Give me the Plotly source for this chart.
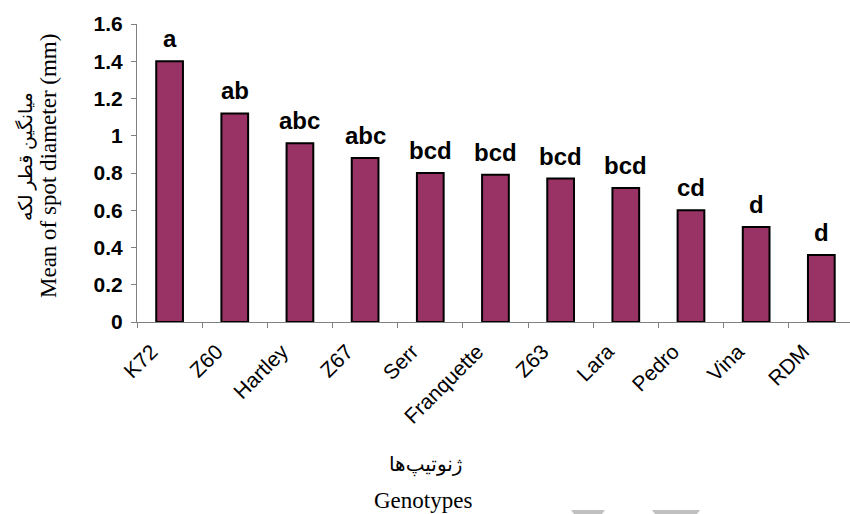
import plotly.graph_objects as go

genotypes = ["K72", "Z60", "Hartley", "Z67", "Serr", "Franquette", "Z63", "Lara", "Pedro", "Vina", "RDM"]
spot_diameter = [1.40, 1.12, 0.96, 0.88, 0.80, 0.79, 0.77, 0.72, 0.60, 0.51, 0.36]
group_letters = ["a", "ab", "abc", "abc", "bcd", "bcd", "bcd", "bcd", "cd", "d", "d"]
y_ticks = [0, 0.2, 0.4, 0.6, 0.8, 1.0, 1.2, 1.4, 1.6]
y_tick_text = ["0", "0.2", "0.4", "0.6", "0.8", "1", "1.2", "1.4", "1.6"]

W, H = 850, 514
L, R, T, B = 137, 0, 24, 192
PW, PH = W - L - R, H - T - B

def px(x):
    return (x - L) / PW

def py(y):
    return (H - B - y) / PH

SANS = "Liberation Sans, Arial, sans-serif"
SERIF = "Liberation Serif, Times New Roman, DejaVu Sans, serif"

fig = go.Figure()
fig.add_trace(go.Bar(
    x=genotypes, y=spot_diameter, width=0.41,
    marker=dict(color="#993366", line=dict(color="#000000", width=2)),
    hoverinfo="x+y",
))

annotations = []
for g, v, lab in zip(genotypes, spot_diameter, group_letters):
    annotations.append(dict(
        x=g, y=v, xref="x", yref="y", text="<b>%s</b>" % lab, showarrow=False,
        yanchor="bottom", xanchor="center", yshift=7,
        font=dict(family=SANS, size=24, color="#000000"),
    ))

annotations += [
    dict(x=px(48), y=py(166), xref="paper", yref="paper", text="Mean of spot diameter (mm)",
         textangle=-90, showarrow=False, xanchor="center", yanchor="middle",
         font=dict(family=SERIF, size=23, color="#000000")),
    dict(x=px(25), y=py(157), xref="paper", yref="paper", text="میانگین قطر لکه",
         textangle=-90, showarrow=False, xanchor="center", yanchor="middle",
         font=dict(family=SERIF, size=19, color="#000000")),
    dict(x=px(425), y=py(465), xref="paper", yref="paper", text="ژنوتیپ\u200cها",
         showarrow=False, xanchor="center", yanchor="middle",
         font=dict(family=SERIF, size=20, color="#000000")),
    dict(x=px(423), y=py(500), xref="paper", yref="paper", text="Genotypes",
         showarrow=False, xanchor="center", yanchor="middle",
         font=dict(family=SERIF, size=23, color="#000000")),
]

shapes = []
for x0, x1 in [(571, 605), (652, 700)]:
    path = "M %f %f L %f %f L %f %f L %f %f Z" % (
        px(x0), py(510), px(x1), py(510), px(x1 - 3), py(514), px(x0 + 3), py(514))
    shapes.append(dict(type="path", path=path, xref="paper", yref="paper",
                       fillcolor="#c0c0c0", line=dict(width=0)))

fig.update_layout(
    width=W, height=H,
    margin=dict(l=L, r=R, t=T, b=B, pad=0),
    paper_bgcolor="white", plot_bgcolor="white",
    showlegend=False,
    annotations=annotations,
    shapes=shapes,
)
fig.update_xaxes(
    range=[-0.5, 10.44], tickson="boundaries", ticks="outside", ticklen=5,
    tickcolor="#808080", showline=True, linecolor="#808080", linewidth=1,
    tickangle=-45, tickfont=dict(family=SANS, size=21, color="#000000"),
    ticklabelshift=-18, ticklabelstandoff=8,
    showgrid=False, zeroline=False,
)
fig.update_yaxes(
    range=[0, 1.6], tickvals=y_ticks, ticktext=y_tick_text,
    ticks="outside", ticklen=5, tickcolor="#808080",
    showline=True, linecolor="#808080", linewidth=1,
    tickfont=dict(family=SANS, size=21, color="#000000", weight="bold"),
    ticklabelstandoff=4,
    showgrid=False, zeroline=False,
)

fig.write_html("out.html")
